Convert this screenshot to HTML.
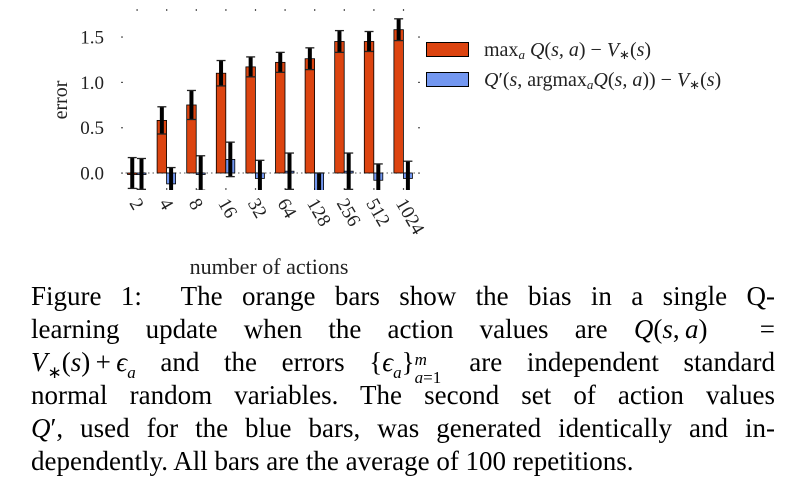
<!DOCTYPE html>
<html><head><meta charset="utf-8"><style>
body{margin:0;background:#fff;width:795px;height:489px;overflow:hidden;position:relative;font-family:"Liberation Serif",serif;}
.l{position:absolute;left:31px;width:744px;height:33px;font-size:27px;line-height:33px;text-align:justify;text-align-last:justify;white-space:nowrap;color:#000}
.l i{font-style:italic}
.sb{font-size:17px;position:relative;top:7px;line-height:0}
.sp{font-size:17px;position:relative;top:-11px;line-height:0}
</style></head><body>
<svg width="795" height="290" style="position:absolute;left:0;top:0" font-family="Liberation Serif, serif">
<g id="plot"></g>
</svg>
<div class="l" style="top:280px">Figure 1: &nbsp;The orange bars show the bias in a single Q-</div>
<div class="l" style="top:313px">learning update when the action values are <i>Q</i>(<i>s</i>,&#8201;<i>a</i>) &nbsp;=</div>
<div class="l" style="top:346px"><i>V</i><span class="sb">∗</span>(<i>s</i>)&#8201;+&#8201;<i>ϵ</i><span class="sb"><i>a</i></span> and the errors {<i>ϵ</i><span class="sb"><i>a</i></span>}<span style="display:inline-block;width:30px;position:relative;line-height:0"><span class="sp" style="position:absolute;left:0;top:-11px"><i>m</i></span><span class="sb" style="position:absolute;left:0;top:7px"><i>a</i>=1</span></span> are independent standard</div>
<div class="l" style="top:379px">normal random variables. The second set of action values</div>
<div class="l" style="top:412px"><i>Q</i>′, used for the blue bars, was generated identically and in-</div>
<div class="l" style="top:445px;text-align-last:left;width:auto">dependently. All bars are the average of 100 repetitions.</div>
<script>
var o=[0,0.58,0.75,1.1,1.17,1.22,1.26,1.45,1.45,1.58];
var b=[-0.01,-0.12,0,0.15,-0.06,0.02,-0.2,0.02,-0.08,-0.06];
var oe=[0.17,0.15,0.16,0.14,0.11,0.11,0.12,0.12,0.11,0.12];
var be=[0.17,0.18,0.19,0.19,0.2,0.2,0.2,0.2,0.18,0.19];
var labs=["2","4","8","16","32","64","128","256","512","1024"];
function Y(v){return 173-v*90.7;}
var s='<defs><clipPath id="c"><rect x="110" y="5" width="320" height="185"/></clipPath></defs>';
for(var i=0;i<10;i++){var c=137+29.6*i;s+='<rect x="'+(c-0.5)+'" y="9" width="1.2" height="2" fill="#555"/><rect x="'+(c-0.5)+'" y="188" width="1.2" height="2" fill="#555"/>';}
[0,0.5,1,1.5].forEach(function(v){s+='<rect x="121" y="'+(Y(v)-0.5)+'" width="2" height="1.2" fill="#555"/><rect x="418" y="'+(Y(v)-0.5)+'" width="2" height="1.2" fill="#555"/><text x="104" y="'+(Y(v)+6.5)+'" font-size="19" text-anchor="end" fill="#222">'+v.toFixed(1)+'</text>';});
s+='<line x1="121" y1="173" x2="420" y2="173" stroke="#777" stroke-width="1.2" stroke-dasharray="1.5,3"/>';
s+='<g clip-path="url(#c)">';
for(var i=0;i<10;i++){var c=137+29.6*i;
 var y0=Y(0),yo=Y(o[i]);s+='<rect x="'+(c-9.5)+'" y="'+Math.min(y0,yo)+'" width="9.5" height="'+Math.max(1.5,Math.abs(y0-yo))+'" fill="#dc4410" stroke="#000" stroke-width="0.8"/>';
 var yb=Y(b[i]);s+='<rect x="'+c+'" y="'+Math.min(y0,yb)+'" width="9" height="'+Math.max(1.5,Math.abs(y0-yb))+'" fill="#7397f0" stroke="#000" stroke-width="0.8"/>';
 var xo=c-4.75,xb=c+4.5;
 s+='<line x1="'+xo+'" x2="'+xo+'" y1="'+Y(o[i]+oe[i])+'" y2="'+Y(o[i]-oe[i])+'" stroke="#000" stroke-width="4"/>';
 s+='<line x1="'+(xo-4.5)+'" x2="'+(xo+4.5)+'" y1="'+Y(o[i]+oe[i])+'" y2="'+Y(o[i]+oe[i])+'" stroke="#222" stroke-width="1.3"/><line x1="'+(xo-4.5)+'" x2="'+(xo+4.5)+'" y1="'+Y(o[i]-oe[i])+'" y2="'+Y(o[i]-oe[i])+'" stroke="#222" stroke-width="1.3"/>';
 s+='<line x1="'+xb+'" x2="'+xb+'" y1="'+Y(b[i]+be[i])+'" y2="'+Y(b[i]-be[i])+'" stroke="#000" stroke-width="4"/>';
 s+='<line x1="'+(xb-4.5)+'" x2="'+(xb+4.5)+'" y1="'+Y(b[i]+be[i])+'" y2="'+Y(b[i]+be[i])+'" stroke="#222" stroke-width="1.3"/><line x1="'+(xb-4.5)+'" x2="'+(xb+4.5)+'" y1="'+Y(b[i]-be[i])+'" y2="'+Y(b[i]-be[i])+'" stroke="#222" stroke-width="1.3"/>';
}
s+='</g>';
for(var i=0;i<10;i++){var c=137+29.6*i;s+='<text transform="translate('+(c-8)+',203) rotate(60)" font-size="19" fill="#222">'+labs[i]+'</text>';}
s+='<text transform="translate(67,100) rotate(-90)" font-size="20" text-anchor="middle" fill="#222">error</text>';
s+='<text x="269" y="274" font-size="22" text-anchor="middle" fill="#222">number of actions</text>';
s+='<rect x="426.5" y="42.5" width="42" height="14" fill="#dc4410" stroke="#000"/><rect x="426.5" y="72.5" width="42" height="14" fill="#7397f0" stroke="#000"/>';
s+='<text x="484" y="56" font-size="20" fill="#222">max<tspan font-size="13" font-style="italic" dy="3">a</tspan><tspan dy="-3"> <tspan font-style="italic">Q</tspan>(<tspan font-style="italic">s, a</tspan>) − <tspan font-style="italic">V</tspan></tspan><tspan font-size="13" dy="3">∗</tspan><tspan dy="-3">(<tspan font-style="italic">s</tspan>)</tspan></text>';
s+='<text x="484" y="86" font-size="20" fill="#222"><tspan font-style="italic">Q</tspan>′(<tspan font-style="italic">s</tspan>, argmax<tspan font-size="13" font-style="italic" dy="3">a</tspan><tspan dy="-3"><tspan font-style="italic">Q</tspan>(<tspan font-style="italic">s, a</tspan>)) − <tspan font-style="italic">V</tspan></tspan><tspan font-size="13" dy="3">∗</tspan><tspan dy="-3">(<tspan font-style="italic">s</tspan>)</tspan></text>';
document.getElementById('plot').innerHTML=s;
</script>
</body></html>
